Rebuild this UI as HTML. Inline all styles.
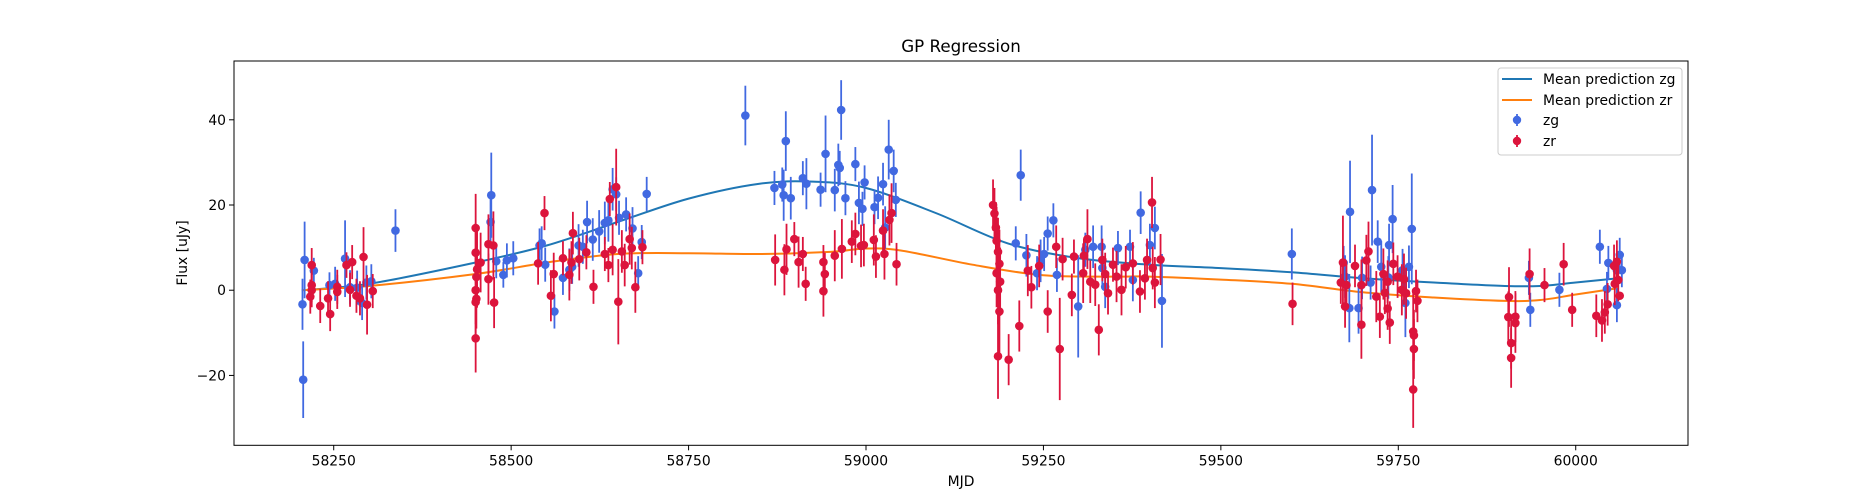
<!DOCTYPE html>
<html><head><meta charset="utf-8"><style>
html,body{margin:0;padding:0;background:#fff;}
svg{display:block;font-family:"DejaVu Sans","Liberation Sans",sans-serif;}
</style></head><body>
<svg id="chart" width="1875" height="500" viewBox="0 0 1875 500">
<rect x="0" y="0" width="1875" height="500" fill="#fff"/>
<text x="961" y="52" font-size="16.7" text-anchor="middle" fill="#000">GP Regression</text>
<text x="961" y="486" font-size="13.9" text-anchor="middle" fill="#000">MJD</text>
<text x="187" y="253" font-size="13.9" text-anchor="middle" fill="#000" transform="rotate(-90 187 253)">Flux [uJy]</text>
<g id="plot"></g>
<g id="axes"></g>
<g id="legend">
<rect x="1498" y="68" width="184" height="87" rx="3" fill="#fff" fill-opacity="0.8" stroke="#ccc" stroke-width="1"/>
<line x1="1502" y1="79" x2="1532" y2="79" stroke="#1f77b4" stroke-width="2"/>
<text x="1543" y="84" font-size="13.9">Mean prediction zg</text>
<line x1="1502" y1="100" x2="1532" y2="100" stroke="#ff7f0e" stroke-width="2"/>
<text x="1543" y="105" font-size="13.9">Mean prediction zr</text>
<line x1="1517" y1="114" x2="1517" y2="126" stroke="#4169e1" stroke-width="1.8"/>
<circle cx="1517" cy="120" r="4.2" fill="#4169e1"/>
<text x="1543" y="125" font-size="13.9">zg</text>
<line x1="1517" y1="135" x2="1517" y2="147" stroke="#dc143c" stroke-width="1.8"/>
<circle cx="1517" cy="141" r="4.2" fill="#dc143c"/>
<text x="1543" y="146" font-size="13.9">zr</text>
</g>
</svg>
<script>
const xTicks = [58250, 58500, 58750, 59000, 59250, 59500, 59750, 60000];
const yTicks = [-20, 0, 20, 40];
const meanX = [58205,58300,58450,58550,58650,58750,58850,58925,59000,59100,59200,59300,59400,59500,59600,59700,59800,59900,59950,60000,60060];
const meanZg = [0,1.5,6.5,10.5,16,21.5,25,25.5,24,18,11,7.5,6,5.2,4.2,2.8,1.8,1,1,1.8,2.8];
const meanZrX = [58205,58300,58450,58550,58650,58750,58850,58950,59000,59050,59150,59250,59350,59400,59500,59600,59700,59800,59900,59950,60000,60060];
const meanZr = [0,1,3.8,6.5,8.5,8.7,8.5,9,9.8,9.3,6,3.5,3.2,3.2,2.5,1.5,-0.5,-1.7,-2.5,-2.3,-1,0.5];
const zgMjd = [58206,58209,58207,58222,58244,58252,58266,58273,58283,58290,58296,58303,58337,58472,58471,58479,58489,58494,58503,58540,58543,58548,58561,58573,58582,58586,58595,58601,58607,58615,58624,58632,58637,58643,58648,58652,58662,58671,58679,58684,58691,58830,58871,58882,58887,58884,58894,58911,58916,58936,58943,58956,58961,58963,58965,58971,58985,58990,58995,58998,59012,59017,59024,59032,59039,59042,59027,59218,59211,59226,59241,59246,59251,59256,59264,59269,59299,59309,59320,59332,59355,59372,59376,59387,59400,59407,59417,59337,59333,59600,59682,59673,59675,59681,59694,59699,59713,59721,59726,59711,59737,59742,59736,59756,59760,59769,59765,59934,59936,59977,60034,60046,60044,60058,60062,60065,60058];
const zgFlux = [-3.3,7.1,-21,4.6,1.2,1.5,7.4,0.7,0.6,-3,1.8,2.1,14,22.3,16,6.8,3.6,7,7.5,10.5,11,6,-5,2.9,4.8,5.5,10.5,10.2,16,11.9,13.8,15.8,16.4,23.7,22.5,17,17.8,14.5,4,11.3,22.6,41,24,24.8,35,22.3,21.6,26.3,25,23.6,32,23.5,29.4,28.7,42.3,21.6,29.6,20.5,19.1,25.3,19.5,21.7,24.9,33,28,21.2,14.7,27,11,8.2,4,6.9,8.5,13.3,16.4,3.6,-3.8,9.5,10.2,10.2,9.9,10.2,2.4,18.2,10.6,14.6,-2.5,0.8,5.2,8.5,18.4,6.4,3.2,-4.2,-4.2,2.9,23.5,11.4,5.5,1.8,10.6,16.7,3,4.7,-3,14.4,5.5,2.9,-4.6,0.1,10.2,6.4,0.3,-3.5,8.3,4.7,4.7];
const zgErr = [6,9,9,3,3,4,9,4,4,4,4,4,5,10,6,4,3,4,4,4,4,4,4,4,5,4,5,4,5,5,5,5,5,5,4,4,4,5,4,4,4,7,4,4,7,6,5,4,6,4,9,5,5,4,7,4,4,5,4,4,4,5,5,7,5,4,5,6,4,5,4,5,4,4,4,4,12,4,5,5,4,4,5,5,5,5,11,5,4,6,12,4,5,8,6,5,13,5,6,4,5,8,5,5,8,13,5,4,4,4,4,4,4,4,4,4,4];
const zrMjd = [58219,58219,58217,58219,58231,58242,58245,58255,58255,58268,58276,58273,58282,58287,58292,58297,58305,58450,58450,58452,58451,58450,58450,58451,58450,58457,58468,58475,58468,58476,58538,58547,58556,58560,58573,58582,58587,58585,58596,58606,58616,58632,58637,58639,58648,58643,58651,58656,58660,58667,58670,58675,58685,58872,58885,58888,58899,58905,58911,58915,58940,58942,58940,58956,58966,58980,58985,58993,58997,59011,59014,59024,59026,59033,59036,59043,59179,59181,59183,59184,59186,59188,59184,59189,59186,59188,59186,59201,59216,59228,59233,59244,59256,59273,59268,59277,59290,59293,59307,59312,59306,59316,59323,59328,59333,59337,59341,59348,59353,59360,59366,59376,59386,59393,59396,59403,59404,59407,59415,59601,59672,59669,59677,59675,59689,59698,59698,59708,59705,59719,59724,59729,59731,59735,59738,59735,59743,59749,59755,59758,59761,59771,59772,59772,59771,59775,59777,59906,59905,59915,59915,59909,59909,59935,59956,59983,59995,60029,60037,60041,60045,60054,60058,60060,60055,60062];
const zrFlux = [5.9,1.2,-1.5,0,-3.7,-1.9,-5.6,0.8,-0.4,5.9,6.6,0.1,-1.3,-1.9,7.8,-3.4,-0.2,14.6,8.8,4.9,3.1,0,-2.8,-2,-11.3,6.5,10.8,10.5,2.6,-2.9,6.3,18.1,-1.3,3.8,7.5,3.6,13.4,6.5,7.3,8.9,0.8,8.5,5.9,21.4,24.2,9.5,-2.7,9.1,5.9,12,9.9,0.7,10.1,7.1,4.8,9.6,12,6.6,8.5,1.5,6.6,3.8,-0.2,8.1,9.7,11.4,13.2,10.4,10.6,11.8,7.9,14,8.5,16.5,18.1,6.1,20,18,14.7,11.6,9,6.2,4,2,0,-5,-15.5,-16.3,-8.4,4.6,0.7,5.7,-5,-13.8,10.2,7.3,-1.1,7.9,8.1,12,4,2,1.3,-9.3,7.1,3.8,-0.7,6,3.2,0.1,5.4,6.3,-0.3,2.8,7.1,20.6,5.2,1.8,7.2,-3.2,6.5,1.8,1.2,-3.8,5.7,1.2,-8.1,9.1,7,-1.5,-6.2,3.8,-0.6,-4.3,-7.6,2,6.2,3.2,0.1,2.6,-0.7,-9.7,-10.6,-13.8,-23.3,-0.2,-2.5,-1.6,-6.3,-6.2,-7.7,-12.4,-15.9,3.8,1.2,6.1,-4.6,-6,-7.1,-5.2,-3.3,5.7,6.7,2.4,1.5,-1.3];
const zrErr = [4,4,4,4,4,4,4,4,4,3,4,4,4,4,7,7,4,8,7,9,6,8,8,7,8,7,7,8,6,6,5,4,6,5,4,6,5,5,5,4,4,4,4,4,9,6,10,5,5,6,5,6,4,6,6,6,4,6,4,4,4,5,6,6,7,5,5,5,5,6,5,5,6,6,7,5,6,6,6,8,8,8,8,8,8,10,10,6,6,6,5,5,5,12,5,5,5,4,4,7,7,5,5,6,5,5,5,4,6,6,5,5,5,5,5,6,5,6,6,5,11,5,5,5,5,6,8,7,6,6,5,6,5,5,5,5,5,5,6,6,6,9,6,7,9,5,5,7,6,6,7,6,7,6,4,5,4,5,5,5,5,5,5,5,5];

const X0 = 234, X1 = 1688, Y0 = 61, Y1 = 445.3;
const xMin = 58109.5, xMax = 60158.2, yMin = -36.4, yMax = 53.8;
function sx(v){ return X0 + (v - xMin) / (xMax - xMin) * (X1 - X0); }
function sy(v){ return Y1 - (v - yMin) / (yMax - yMin) * (Y1 - Y0); }
const NS = 'http://www.w3.org/2000/svg';
function mk(tag, attrs, parent){ const e = document.createElementNS(NS, tag); for (const k in attrs) e.setAttribute(k, attrs[k]); parent.appendChild(e); return e; }
const plot = document.getElementById('plot');
const axes = document.getElementById('axes');

function smoothPath(xs, ys){
  const p = xs.map((x,i)=>[sx(x), sy(ys[i])]);
  let d = 'M' + p[0][0].toFixed(1) + ',' + p[0][1].toFixed(1);
  for (let i=0;i<p.length-1;i++){
    const p0 = p[Math.max(0,i-1)], p1 = p[i], p2 = p[i+1], p3 = p[Math.min(p.length-1,i+2)];
    const c1 = [p1[0]+(p2[0]-p0[0])/6, p1[1]+(p2[1]-p0[1])/6];
    const c2 = [p2[0]-(p3[0]-p1[0])/6, p2[1]-(p3[1]-p1[1])/6];
    d += ' C' + c1.map(v=>v.toFixed(1)).join(',') + ' ' + c2.map(v=>v.toFixed(1)).join(',') + ' ' + p2.map(v=>v.toFixed(1)).join(',');
  }
  return d;
}
const lg = mk('path', {d: smoothPath(meanX, meanZg), fill:'none', stroke:'#1f77b4', 'stroke-width':2}, plot);


const lr = mk('path', {d: smoothPath(meanZrX, meanZr), fill:'none', stroke:'#ff7f0e', 'stroke-width':2}, plot);



function drawSeries(xs, ys, es, color, name){
  for (let i=0;i<xs.length;i++){
    const cx = sx(xs[i]);
    const l = mk('line', {x1:cx, x2:cx, y1:sy(ys[i]+es[i]), y2:sy(ys[i]-es[i]), stroke:color, 'stroke-width':1.8}, plot);
    
    
    const c = mk('circle', {cx:cx, cy:sy(ys[i]), r:4.3, fill:color}, plot);
    
    
  }
}
drawSeries(zgMjd, zgFlux, zgErr, '#4169e1', 'zg');
drawSeries(zrMjd, zrFlux, zrErr, '#dc143c', 'zr');

const frame = mk('rect', {x:X0, y:Y0, width:X1-X0, height:Y1-Y0, fill:'none', stroke:'#000', 'stroke-width':1}, axes);


xTicks.forEach(t=>{
  const x = sx(t);
  const tk = mk('line', {x1:x, x2:x, y1:Y1, y2:Y1+5, stroke:'#000', 'stroke-width':1}, axes);
  
  
  const tx = mk('text', {x:x, y:Y1+20, 'font-size':13.9, 'text-anchor':'middle'}, axes);
  tx.textContent = t;
  
  
});
yTicks.forEach(t=>{
  const y = sy(t);
  const tk = mk('line', {x1:X0-5, x2:X0, y1:y, y2:y, stroke:'#000', 'stroke-width':1}, axes);
  
  
  const tx = mk('text', {x:X0-8, y:y+5, 'font-size':13.9, 'text-anchor':'end'}, axes);
  tx.textContent = t < 0 ? '\u2212' + Math.abs(t) : t;
  
  
});
</script>
</body></html>
